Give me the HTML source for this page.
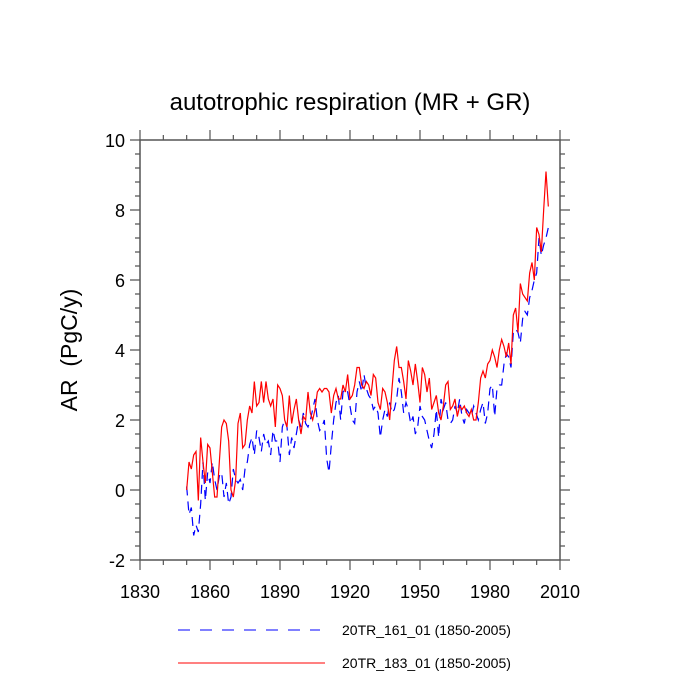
<!DOCTYPE html>
<html><head><meta charset="utf-8"><style>
body{margin:0;background:#fff}
svg{display:block;font-family:"Liberation Sans",sans-serif}
</style></head><body>
<svg id="c" width="700" height="700">
<text x="350" y="110" font-size="24" text-anchor="middle">autotrophic respiration (MR + GR)</text>
<text transform="translate(77,350) rotate(-90)" font-size="23" text-anchor="middle">AR&#160;&#160;(PgC/y)</text>
<g id="axes"></g>
<g id="series"></g>
<g>
<line x1="178" y1="630" x2="320" y2="630" stroke="#00f" stroke-width="1" stroke-dasharray="12,10"/>
<text x="342" y="635" font-size="14">20TR_161_01 (1850-2005)</text>
<line x1="178" y1="663" x2="325" y2="663" stroke="#f00" stroke-width="1"/>
<text x="342" y="668" font-size="14">20TR_183_01 (1850-2005)</text>
</g>
</svg>
<script>
const startYear = 1850;
const red = [0.0,0.8,0.6,1.0,1.1,-0.3,1.5,0.8,0.2,1.3,
1.2,0.5,-0.2,-0.2,0.8,1.8,2.0,1.9,1.4,0.0,
-0.2,0.3,1.9,2.2,1.2,1.3,2.0,2.4,2.2,3.1,
2.4,2.5,3.1,2.5,3.1,2.6,2.4,2.6,1.8,3.0,
2.9,2.7,2.0,1.8,2.7,1.9,2.3,2.6,2.0,1.6,
2.1,2.0,2.8,2.2,2.0,2.3,2.8,2.9,2.8,2.9,
2.9,2.8,2.2,2.7,2.9,2.6,2.6,3.0,2.8,3.3,
2.6,2.7,3.0,3.5,3.5,3.0,2.9,3.1,3.0,2.7,
3.3,3.2,2.5,2.3,2.9,2.8,2.5,2.0,2.9,3.7,
4.1,3.5,3.5,3.1,2.6,3.7,3.4,3.0,3.6,3.1,
2.5,3.5,3.3,2.8,3.2,2.3,2.5,2.7,2.2,2.0,
2.4,3.0,3.1,2.3,2.4,2.6,2.1,2.4,2.3,2.4,
2.2,2.1,2.3,2.0,2.0,2.5,3.2,3.4,3.2,3.6,
3.7,4.0,3.8,3.5,4.0,4.3,4.1,3.8,4.2,3.6,
5.0,5.2,4.5,5.9,5.6,5.5,5.4,6.2,6.5,6.0,
7.5,7.3,6.8,8.0,9.1,8.1];
const blue = [0.1,-0.7,-0.5,-1.3,-1.0,-1.2,-0.4,0.8,-0.3,0.5,
0.2,0.8,0.3,0.0,0.4,0.5,-0.2,0.2,-0.4,-0.2,
0.6,0.3,0.2,0.3,0.0,0.6,0.8,1.3,1.5,1.0,
1.7,1.5,1.1,1.6,1.3,1.4,1.0,1.7,1.4,1.4,
0.8,1.8,2.0,1.8,1.0,1.5,1.2,1.6,2.0,1.8,
2.2,1.9,1.8,2.0,2.3,2.6,2.0,1.7,1.8,2.0,
0.9,0.5,1.3,2.0,2.5,2.7,2.0,2.8,2.9,2.8,
2.4,2.0,1.9,2.8,3.1,2.8,3.3,2.9,2.7,2.6,
2.3,2.4,2.2,1.5,2.0,2.3,2.1,2.5,2.2,2.3,
2.6,3.2,2.8,2.2,2.5,2.3,1.9,2.1,1.6,1.8,
2.4,2.1,2.0,1.7,1.4,1.2,1.6,2.3,1.5,2.6,
2.3,2.5,2.0,1.9,2.0,2.4,2.2,2.6,2.1,1.9,
2.3,2.2,2.1,2.4,2.2,2.0,2.3,2.5,1.9,2.2,
2.9,3.0,2.1,2.9,3.0,3.0,3.6,3.9,3.8,3.5,
4.5,4.6,4.5,4.2,4.9,5.1,5.0,5.5,5.7,6.0,
6.2,7.2,6.7,7.0,7.2,7.5];
const xTicks = [1830,1860,1890,1920,1950,1980,2010];
const yTicks = [-2,0,2,4,6,8,10];
const L=140,R=560,T=140,B=560;
const x = v => L + (v-1830)/(2010-1830)*(R-L);
const y = v => B - (v+2)/12*(B-T);
const NS="http://www.w3.org/2000/svg";
function mk(tag, attrs, parent){const e=document.createElementNS(NS,tag);for(const k in attrs)e.setAttribute(k,attrs[k]);parent.appendChild(e);return e;}
const ax=document.getElementById('axes');
const frame=mk('rect',{x:L,y:T,width:R-L,height:B-T,fill:'none',stroke:'#555','stroke-width':1.5},ax);


let p='';
for(let v=1830;v<=2010;v+=10){const big=(v-1830)%30===0;const len=big?10:5;const px=x(v);
 p+=`M${px},${B}v${len}M${px},${T}v${-len}`;}
for(let v=-2;v<=10.001;v+=0.4){const big=Math.abs(Math.round(v/2)*2-v)<1e-6;const len=big?10:5;const py=y(v);
 p+=`M${L},${py}h${-len}M${R},${py}h${len}`;}
const tk=mk('path',{d:p,stroke:'#555','stroke-width':1.2,fill:'none'},ax);


xTicks.forEach(v=>{const t=mk('text',{x:x(v),y:B+38,'font-size':18,'text-anchor':'middle'},ax);t.textContent=v;
 
 });
yTicks.forEach(v=>{const t=mk('text',{x:L-15,y:y(v)+7,'font-size':18,'text-anchor':'end'},ax);t.textContent=v;
 
 });
const sg=document.getElementById('series');
function pts(a){return a.map((v,i)=>`${x(startYear+i).toFixed(2)},${y(v).toFixed(2)}`).join(' ');}
const bl=mk('polyline',{points:pts(blue),fill:'none',stroke:'#00f','stroke-width':1.2,'stroke-dasharray':'9,6'},sg);


const rl=mk('polyline',{points:pts(red),fill:'none',stroke:'#f00','stroke-width':1.2},sg);


</script>
</body></html>
